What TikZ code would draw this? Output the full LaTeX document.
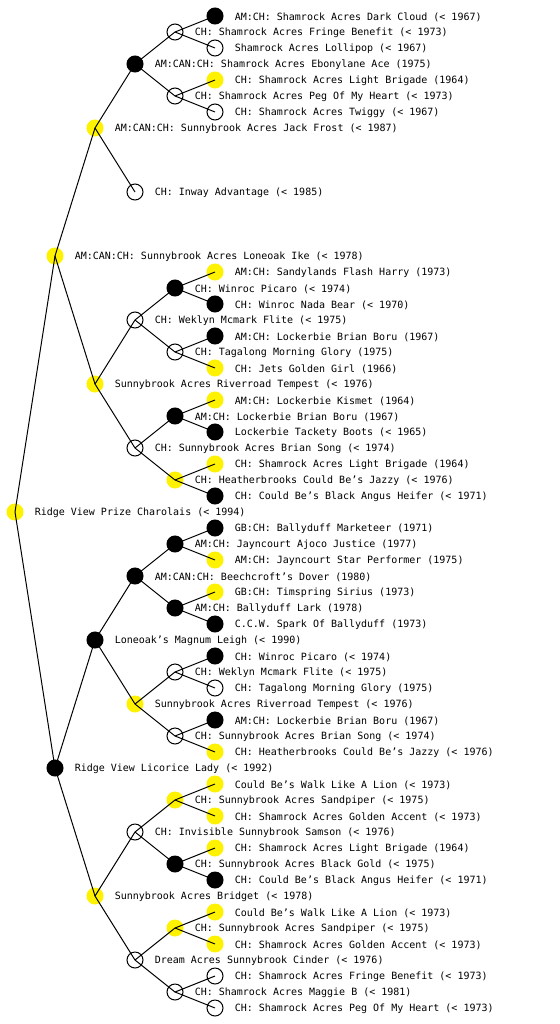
\documentclass[tikz,border=0pt]{standalone}
\usepackage{fontspec}
\newfontfamily\pedfont{DejaVu Sans Mono}
\tikzset{
  dot/.style={circle, minimum size=12pt, inner sep=0pt, line width=0.75pt},
  op/.style={dot, draw=black},
  yl/.style={dot, fill=yellow, draw=yellow},
  bk/.style={dot, fill=black, draw=black},
  lbl/.style={anchor=west, inner sep=0pt, font=\pedfont\fontsize{7.5pt}{9pt}\selectfont},
  link/.style={line width=0.75pt, black}
}
\newcommand{\pn}[5]{\node[#4] (#1) at (#2,#3) {}; \node[lbl] (#1t) at (#2+19.5,#3+1) {#5};}
\begin{document}
\begin{tikzpicture}[x=0.75pt, y=-0.75pt]
\useasboundingbox (0,0) rectangle (560,1024);
% generation 0-1-2
\pn{r}{15}{512}{yl}{Ridge View Prize Charolais (< 1994)}
\pn{a}{55}{256}{yl}{AM:CAN:CH: Sunnybrook Acres Loneoak Ike (< 1978)}
\pn{b}{55}{768}{bk}{Ridge View Licorice Lady (< 1992)}
\pn{aa}{95}{128}{yl}{AM:CAN:CH: Sunnybrook Acres Jack Frost (< 1987)}
\pn{ab}{95}{384}{yl}{Sunnybrook Acres Riverroad Tempest (< 1976)}
\pn{ba}{95}{640}{bk}{Loneoak’s Magnum Leigh (< 1990)}
\pn{bb}{95}{896}{yl}{Sunnybrook Acres Bridget (< 1978)}
% generation 3
\pn{aaa}{135}{64}{bk}{AM:CAN:CH: Shamrock Acres Ebonylane Ace (1975)}
\pn{aab}{135}{192}{op}{CH: Inway Advantage (< 1985)}
\pn{aba}{135}{320}{op}{CH: Weklyn Mcmark Flite (< 1975)}
\pn{abb}{135}{448}{op}{CH: Sunnybrook Acres Brian Song (< 1974)}
\pn{baa}{135}{576}{bk}{AM:CAN:CH: Beechcroft’s Dover (1980)}
\pn{bab}{135}{704}{yl}{Sunnybrook Acres Riverroad Tempest (< 1976)}
\pn{bba}{135}{832}{op}{CH: Invisible Sunnybrook Samson (< 1976)}
\pn{bbb}{135}{960}{op}{Dream Acres Sunnybrook Cinder (< 1976)}
% generation 4
\pn{aaaa}{175}{32}{op}{CH: Shamrock Acres Fringe Benefit (< 1973)}
\pn{aaab}{175}{96}{op}{CH: Shamrock Acres Peg Of My Heart (< 1973)}
\pn{abaa}{175}{288}{bk}{CH: Winroc Picaro (< 1974)}
\pn{abab}{175}{352}{op}{CH: Tagalong Morning Glory (1975)}
\pn{abba}{175}{416}{bk}{AM:CH: Lockerbie Brian Boru (1967)}
\pn{abbb}{175}{480}{yl}{CH: Heatherbrooks Could Be’s Jazzy (< 1976)}
\pn{baaa}{175}{544}{bk}{AM:CH: Jayncourt Ajoco Justice (1977)}
\pn{baab}{175}{608}{bk}{AM:CH: Ballyduff Lark (1978)}
\pn{baba}{175}{672}{op}{CH: Weklyn Mcmark Flite (< 1975)}
\pn{babb}{175}{736}{op}{CH: Sunnybrook Acres Brian Song (< 1974)}
\pn{bbaa}{175}{800}{yl}{CH: Sunnybrook Acres Sandpiper (< 1975)}
\pn{bbab}{175}{864}{bk}{CH: Sunnybrook Acres Black Gold (< 1975)}
\pn{bbba}{175}{928}{yl}{CH: Sunnybrook Acres Sandpiper (< 1975)}
\pn{bbbb}{175}{992}{op}{CH: Shamrock Acres Maggie B (< 1981)}
% generation 5
\pn{aaaaa}{215}{16}{bk}{AM:CH: Shamrock Acres Dark Cloud (< 1967)}
\pn{aaaab}{215}{48}{op}{Shamrock Acres Lollipop (< 1967)}
\pn{aaaba}{215}{80}{yl}{CH: Shamrock Acres Light Brigade (1964)}
\pn{aaabb}{215}{112}{op}{CH: Shamrock Acres Twiggy (< 1967)}
\pn{abaaa}{215}{272}{yl}{AM:CH: Sandylands Flash Harry (1973)}
\pn{abaab}{215}{304}{bk}{CH: Winroc Nada Bear (< 1970)}
\pn{ababa}{215}{336}{bk}{AM:CH: Lockerbie Brian Boru (1967)}
\pn{ababb}{215}{368}{yl}{CH: Jets Golden Girl (1966)}
\pn{abbaa}{215}{400}{yl}{AM:CH: Lockerbie Kismet (1964)}
\pn{abbab}{215}{432}{bk}{Lockerbie Tackety Boots (< 1965)}
\pn{abbba}{215}{464}{yl}{CH: Shamrock Acres Light Brigade (1964)}
\pn{abbbb}{215}{496}{bk}{CH: Could Be’s Black Angus Heifer (< 1971)}
\pn{baaaa}{215}{528}{bk}{GB:CH: Ballyduff Marketeer (1971)}
\pn{baaab}{215}{560}{yl}{AM:CH: Jayncourt Star Performer (1975)}
\pn{baaba}{215}{592}{yl}{GB:CH: Timspring Sirius (1973)}
\pn{baabb}{215}{624}{bk}{C.C.W. Spark Of Ballyduff (1973)}
\pn{babaa}{215}{656}{bk}{CH: Winroc Picaro (< 1974)}
\pn{babab}{215}{688}{op}{CH: Tagalong Morning Glory (1975)}
\pn{babba}{215}{720}{bk}{AM:CH: Lockerbie Brian Boru (1967)}
\pn{babbb}{215}{752}{yl}{CH: Heatherbrooks Could Be’s Jazzy (< 1976)}
\pn{bbaaa}{215}{784}{yl}{Could Be’s Walk Like A Lion (< 1973)}
\pn{bbaab}{215}{816}{yl}{CH: Shamrock Acres Golden Accent (< 1973)}
\pn{bbaba}{215}{848}{yl}{CH: Shamrock Acres Light Brigade (1964)}
\pn{bbabb}{215}{880}{bk}{CH: Could Be’s Black Angus Heifer (< 1971)}
\pn{bbbaa}{215}{912}{yl}{Could Be’s Walk Like A Lion (< 1973)}
\pn{bbbab}{215}{944}{yl}{CH: Shamrock Acres Golden Accent (< 1973)}
\pn{bbbba}{215}{976}{op}{CH: Shamrock Acres Fringe Benefit (< 1973)}
\pn{bbbbb}{215}{1008}{op}{CH: Shamrock Acres Peg Of My Heart (< 1973)}
% links
\foreach \p/\c in {r/a, r/b, a/aa, a/ab, b/ba, b/bb,
  aa/aaa, aa/aab, ab/aba, ab/abb, ba/baa, ba/bab, bb/bba, bb/bbb,
  aaa/aaaa, aaa/aaab, aba/abaa, aba/abab, abb/abba, abb/abbb,
  baa/baaa, baa/baab, bab/baba, bab/babb, bba/bbaa, bba/bbab, bbb/bbba, bbb/bbbb,
  aaaa/aaaaa, aaaa/aaaab, aaab/aaaba, aaab/aaabb, abaa/abaaa, abaa/abaab,
  abab/ababa, abab/ababb, abba/abbaa, abba/abbab, abbb/abbba, abbb/abbbb,
  baaa/baaaa, baaa/baaab, baab/baaba, baab/baabb, baba/babaa, baba/babab,
  babb/babba, babb/babbb, bbaa/bbaaa, bbaa/bbaab, bbab/bbaba, bbab/bbabb,
  bbba/bbbaa, bbba/bbbab, bbbb/bbbba, bbbb/bbbbb}
  \draw[link] (\p.center) -- (\c.center);
\end{tikzpicture}
\end{document}
